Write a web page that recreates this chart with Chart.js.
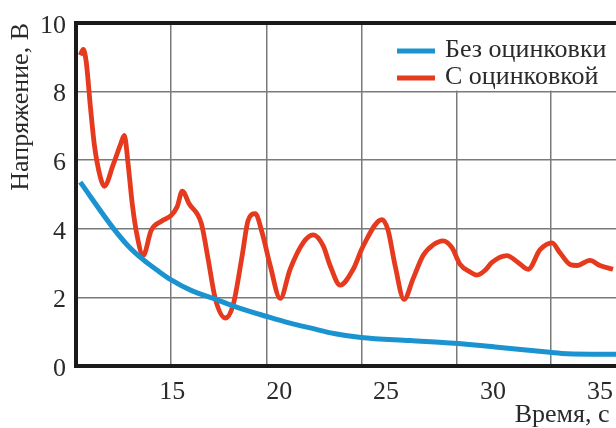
<!DOCTYPE html>
<html>
<head>
<meta charset="utf-8">
<script src="https://cdn.jsdelivr.net/npm/chart.js@4.4.1/dist/chart.umd.min.js"></script>
<style>
  html, body { margin: 0; padding: 0; background: #fff; }
  #wrap { width: 616px; height: 428px; position: relative; }
</style>
</head>
<body>
<div id="wrap"><canvas id="chart-voltage"></canvas></div>
<script>
// Без оцинковки: время (с) и напряжение (В)
const blueTime = [10.70, 12.24, 12.94, 13.64, 14.30, 14.95, 15.93, 16.92, 18.18, 19.39, 20.51, 21.45, 22.62, 23.83, 26.12, 28.22, 30.33, 32.66, 33.46, 35.75];
const blueVoltage = [5.36, 4.02, 3.50, 3.10, 2.79, 2.51, 2.19, 1.97, 1.68, 1.45, 1.25, 1.11, 0.94, 0.83, 0.74, 0.66, 0.54, 0.40, 0.36, 0.34];

// С оцинковкой
const redTime = [10.70, 10.84, 10.98, 11.17, 11.36, 11.64, 11.82, 12.24, 12.57, 12.76, 12.94, 13.13, 13.36, 13.64, 14.02, 14.49, 14.95, 15.23, 15.47, 15.79,
  16.36, 16.68, 17.01, 17.48, 17.85, 18.27, 18.55, 18.88, 19.21, 19.58, 20.05, 20.51, 21.12, 21.59, 22.06, 22.38, 22.85, 23.46, 23.93, 24.81,
  25.09, 25.42, 25.84, 26.26, 26.73, 27.20, 27.66, 28.08, 28.46, 28.93, 29.25, 29.63, 29.95, 30.65, 31.17, 31.64, 32.20, 32.76, 33.13, 33.60,
  33.93, 34.53, 35.00, 35.61];
const redVoltage = [9.06, 9.23, 8.86, 7.58, 6.44, 5.50, 5.24, 5.87, 6.44, 6.72, 5.87, 4.73, 3.79, 3.22, 3.96, 4.22, 4.39, 4.64, 5.10, 4.73,
  4.16, 3.11, 1.97, 1.40, 1.79, 3.22, 4.25, 4.44, 3.87, 2.93, 1.97, 2.82, 3.59, 3.82, 3.50, 2.93, 2.36, 2.82, 3.50, 4.27,
  3.96, 2.93, 1.94, 2.54, 3.22, 3.53, 3.65, 3.45, 2.96, 2.74, 2.65, 2.79, 3.02, 3.22, 3.02, 2.82, 3.39, 3.59, 3.30, 2.96,
  2.93, 3.08, 2.93, 2.82];

const seriesLabels = ['Без оцинковки', 'С оцинковкой'];
const seriesColors = ['#1b93d1', '#e53a1e'];

// подписи оси X и (смещённые) линии сетки
const xTickValues = [15, 20, 25, 30, 35];
const xGridValues = [14.95, 19.4, 23.85, 28.3, 32.7];
const xMin = 10.5;
const xMax = 35.75;

const serifFont = '"Liberation Serif", "Times New Roman", serif';
const textColor = '#2a2a2a';
const frameColor = '#1a1a1a';
const gridColor = '#7a7a7a';

function toPoints(xs, ys) {
  return xs.map((x, i) => ({ x: x, y: ys[i] }));
}

// легенда внутри графика + верхняя рамка
const insideLegend = {
  id: 'insideLegend',
  afterDatasetsDraw(chart) {
    const { ctx, chartArea, scales } = chart;
    const boxBottom = scales.y.getPixelForValue(8) - 1;
    ctx.save();
    ctx.fillStyle = '#fff';
    ctx.fillRect(chartArea.right - 233, chartArea.top + 2, 233, boxBottom - chartArea.top - 2);

    ctx.strokeStyle = frameColor;
    ctx.lineWidth = 4;
    ctx.beginPath();
    ctx.moveTo(chartArea.left - 2, chartArea.top);
    ctx.lineTo(chartArea.right, chartArea.top);
    ctx.stroke();

    ctx.font = '26px ' + serifFont;
    ctx.textBaseline = 'middle';
    ctx.textAlign = 'left';
    chart.data.datasets.forEach((ds, i) => {
      const y = chartArea.top + 28 + i * 27;
      ctx.strokeStyle = ds.borderColor;
      ctx.lineWidth = 5;
      ctx.lineCap = 'butt';
      ctx.beginPath();
      ctx.moveTo(chartArea.right - 219, y);
      ctx.lineTo(chartArea.right - 181, y);
      ctx.stroke();
      ctx.fillStyle = textColor;
      ctx.fillText(ds.label, chartArea.right - 171, y - 1);
    });
    ctx.restore();
  }
};

const ctx = document.getElementById('chart-voltage').getContext('2d');
const chartVoltage = new Chart(ctx, {
  type: 'line',
  data: {
    datasets: [{
      label: seriesLabels[0],
      data: toPoints(blueTime, blueVoltage),
      borderColor: seriesColors[0],
      borderWidth: 5,
      pointRadius: 0,
      cubicInterpolationMode: 'monotone',
      xAxisID: 'x'
    }, {
      label: seriesLabels[1],
      data: toPoints(redTime, redVoltage),
      borderColor: seriesColors[1],
      borderWidth: 4.8,
      pointRadius: 0,
      cubicInterpolationMode: 'monotone',
      xAxisID: 'x'
    }]
  },
  options: {
    responsive: true,
    maintainAspectRatio: false,
    animation: false,
    layout: { padding: { top: 15, right: 0, left: 0, bottom: 0 } },
    scales: {
      x: {
        type: 'linear',
        position: 'bottom',
        min: xMin,
        max: xMax,
        afterBuildTicks: axis => { axis.ticks = xTickValues.map(v => ({ value: v })); },
        afterFit: axis => {
          axis.height = 62;
          axis.paddingLeft = 0;
          axis.paddingRight = 0;
        },
        grid: { display: false, drawTicks: false },
        border: { display: true, width: 4, color: frameColor },
        ticks: {
          padding: 11,
          color: textColor,
          maxRotation: 0,
          font: { family: serifFont, size: 26 }
        },
        title: {
          display: true,
          text: 'Время, с ',
          align: 'end',
          color: textColor,
          padding: 0,
          font: { family: serifFont, size: 26, lineHeight: 1 }
        }
      },
      xg: {
        type: 'linear',
        position: 'bottom',
        min: xMin,
        max: xMax,
        afterBuildTicks: axis => { axis.ticks = xGridValues.map(v => ({ value: v })); },
        afterFit: axis => { axis.height = 0; },
        grid: { color: gridColor, lineWidth: 1.5, drawTicks: false },
        border: { display: false },
        ticks: { display: false }
      },
      y: {
        min: 0,
        max: 10,
        afterFit: axis => { axis.width = 76; },
        grid: { color: gridColor, lineWidth: 1.5, drawTicks: false },
        border: { display: true, width: 4, color: frameColor },
        ticks: {
          stepSize: 2,
          padding: 10,
          labelOffset: 3,
          color: textColor,
          font: { family: serifFont, size: 26, lineHeight: 1 }
        },
        title: {
          display: true,
          text: 'Напряжение, В',
          align: 'end',
          color: textColor,
          padding: { top: 8, bottom: 0 },
          font: { family: serifFont, size: 26, lineHeight: 1 }
        }
      }
    },
    plugins: {
      legend: { display: false },
      tooltip: { enabled: false }
    }
  },
  plugins: [insideLegend]
});
</script>
</body>
</html>
